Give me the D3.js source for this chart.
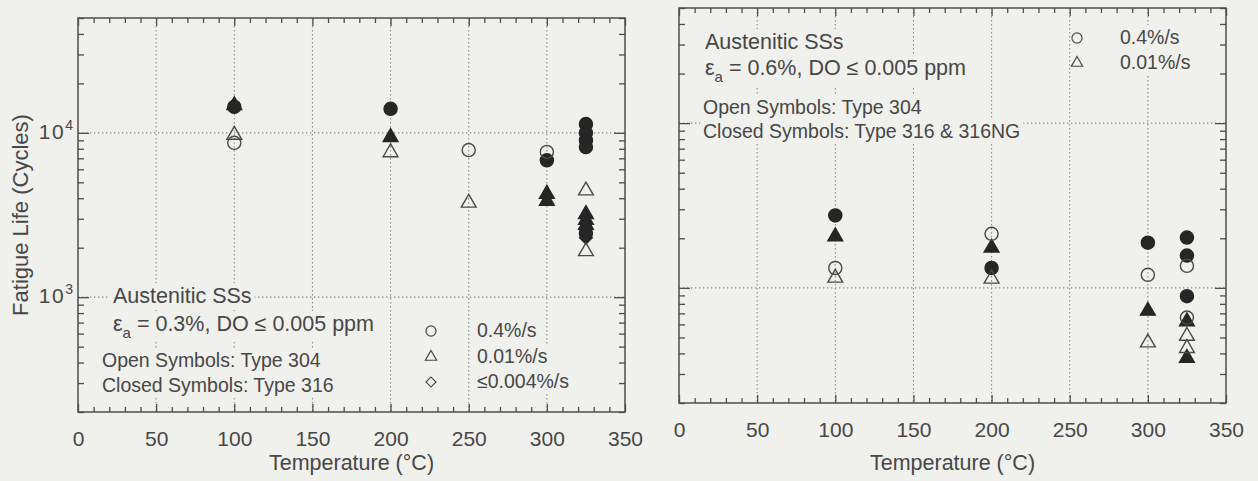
<!DOCTYPE html>
<html>
<head>
<meta charset="utf-8">
<script src="https://cdn.jsdelivr.net/npm/d3@7"></script>
<style>
  body { margin: 0; background: #f0f0ed; }
  svg { display: block; font-family: "Liberation Sans", Arial, sans-serif; }
</style>
</head>
<body>
<div id="chart"></div>
<script>
// axis values
const tempTicks = [0, 50, 100, 150, 200, 250, 300, 350];
const gridTemps = [50, 100, 150, 200, 250, 300];
const lifeDecades = [1000, 10000];
const decadeExp = ['3', '4'];

// left panel, strain amplitude 0.3 %
const a03OpenCircleT = [100, 250, 300];
const a03OpenCircleN = [8700, 7850, 7650];
const a03OpenTriT = [100, 200, 250, 325, 325];
const a03OpenTriN = [9700, 7600, 3750, 4450, 1900];
const a03FillCircleT = [100, 200, 300, 325, 325, 325, 325, 325];
const a03FillCircleN = [14400, 14000, 6800, 11300, 10000, 9000, 8200, 2450];
const a03FillTriT = [100, 200, 300, 300, 325, 325, 325];
const a03FillTriN = [14700, 9400, 4250, 3850, 3200, 2950, 2750];
const a03FillDiamondT = [325];
const a03FillDiamondN = [2300];

// right panel, strain amplitude 0.6 %
const a06OpenCircleT = [100, 200, 300, 325, 325];
const a06OpenCircleN = [1320, 2130, 1200, 1360, 660];
const a06OpenTriT = [100, 200, 300, 325, 325];
const a06OpenTriN = [1150, 1135, 465, 510, 430];
const a06FillCircleT = [100, 200, 300, 325, 325, 325];
const a06FillCircleN = [2750, 1320, 1880, 2020, 1570, 890];
const a06FillTriT = [100, 200, 300, 325, 325];
const a06FillTriN = [2050, 1750, 725, 625, 375];

// legend / note texts
const leftNotes = ['Austenitic SSs', '0.3%', 'Open Symbols: Type 304', 'Closed Symbols: Type 316'];
const rightNotes = ['Austenitic SSs', '0.6%', 'Open Symbols: Type 304', 'Closed Symbols: Type 316 & 316NG'];
const leftRates = ['0.4%/s', '0.01%/s', '\u22640.004%/s'];
const rightRates = ['0.4%/s', '0.01%/s'];

const W = 1258, H = 481;
const bg = '#f0f0ed';
const ink = '#262626';
const textColor = '#474747';

const svg = d3.select('#chart').append('svg').attr('width', W).attr('height', H);
svg.append('rect').attr('width', W).attr('height', H).attr('fill', bg);

// diamond drawn as a rotated square (the legend one is as wide as tall)
const shapes = {
  circle: { type: d3.symbolCircle, size: 135, legendSize: 80, rot: 0 },
  triangle: { type: d3.symbolTriangle, size: 95, legendSize: 55, rot: 0 },
  diamond: { type: d3.symbolSquare, size: 80, legendSize: 50, rot: 45 },
};

function makeSeries(t, n, shape, filled) {
  return t.map((d, i) => ({ t: d, n: n[i], shape: shape, filled: filled }));
}

// text with a bg rect behind it so the grid is knocked out
function noteText(layer, x, y, size, str, eps) {
  const t = layer.append('text')
    .attr('x', x).attr('y', y)
    .attr('font-size', size)
    .attr('fill', textColor);
  if (eps) {
    t.append('tspan').text('\u03b5');
    t.append('tspan').attr('dy', 7).attr('font-size', 15).text('a');
    t.append('tspan').attr('dy', -7).text(' = ' + str + ', DO \u2264 0.005 ppm');
  } else {
    t.text(str);
  }
  const b = t.node().getBBox();
  layer.insert('rect', () => t.node())
    .attr('x', b.x - 3).attr('y', b.y - 1)
    .attr('width', b.width + 6).attr('height', b.height + 2)
    .attr('fill', bg);
  return t;
}

function drawPanel(cfg) {
  const x = d3.scaleLinear().domain([0, 350]).range([cfg.x0, cfg.x1]);
  const y = d3.scaleLog().domain([200, 50000]).range([cfg.y1, cfg.y0]);

  const gridLayer = svg.append('g');
  const noteLayer = svg.append('g');
  const markLayer = svg.append('g');
  const axisLayer = svg.append('g');

  // dotted grid
  gridLayer.selectAll('.vg').data(gridTemps).join('line')
    .attr('x1', d => x(d)).attr('x2', d => x(d))
    .attr('y1', cfg.y0).attr('y2', cfg.y1);
  gridLayer.selectAll('.hg').data(lifeDecades).join('line')
    .attr('x1', cfg.x0).attr('x2', cfg.x1)
    .attr('y1', d => y(d)).attr('y2', d => y(d));
  gridLayer.selectAll('line')
    .attr('stroke', '#8c8c8c')
    .attr('stroke-width', 1.1)
    .attr('stroke-dasharray', '1.4,2.6');

  // notes
  const nl = cfg.notesAt;
  noteText(noteLayer, nl[0].x, nl[0].y, 21.5, cfg.notes[0]);
  noteText(noteLayer, nl[1].x, nl[1].y, 21.5, cfg.notes[1], true);
  noteText(noteLayer, nl[2].x, nl[2].y, 19.5, cfg.notes[2]);
  noteText(noteLayer, nl[3].x, nl[3].y, 19.5, cfg.notes[3]);

  // symbol legend
  cfg.rates.forEach((r, i) => {
    const sh = shapes[cfg.legendShapes[i]];
    const sy = cfg.legendY[i];
    noteText(noteLayer, cfg.legendTextX, sy + 6, 19.5, r);
    noteLayer.append('path')
      .attr('d', d3.symbol().type(sh.type).size(sh.legendSize)())
      .attr('transform', `translate(${cfg.legendSymX},${sy}) rotate(${sh.rot})`)
      .attr('fill', 'none')
      .attr('stroke', textColor)
      .attr('stroke-width', 1.2);
  });

  // data marks (triangles under circles, open symbols on top)
  markLayer.selectAll('path').data(cfg.series).join('path')
    .attr('d', d => d3.symbol().type(shapes[d.shape].type).size(shapes[d.shape].size)())
    .attr('transform', d => `translate(${x(d.t)},${y(d.n)}) rotate(${shapes[d.shape].rot})`)
    .attr('fill', d => d.filled ? ink : 'none')
    .attr('stroke', d => d.filled ? ink : '#4a4a4a')
    .attr('stroke-width', 1.4);

  // axes, ticks pointing inward
  const minorT = d3.range(0, 351, 10).filter(d => d % 50 !== 0);
  const minorN = y.ticks().filter(d => !lifeDecades.includes(d));

  const bottom = axisLayer.append('g').attr('transform', `translate(0,${cfg.y1})`)
    .call(d3.axisBottom(x).tickValues(tempTicks).tickSize(-8).tickPadding(19));
  axisLayer.append('g').attr('transform', `translate(0,${cfg.y1})`)
    .call(d3.axisBottom(x).tickValues(minorT).tickSize(-5).tickFormat(''));
  axisLayer.append('g').attr('transform', `translate(0,${cfg.y0})`)
    .call(d3.axisTop(x).tickValues(tempTicks).tickSize(-8).tickFormat(''));
  axisLayer.append('g').attr('transform', `translate(0,${cfg.y0})`)
    .call(d3.axisTop(x).tickValues(minorT).tickSize(-5).tickFormat(''));
  axisLayer.append('g').attr('transform', `translate(${cfg.x0},0)`)
    .call(d3.axisLeft(y).tickValues(lifeDecades).tickSize(-11).tickFormat(''));
  axisLayer.append('g').attr('transform', `translate(${cfg.x0},0)`)
    .call(d3.axisLeft(y).tickValues(minorN).tickSize(-6).tickFormat(''));
  axisLayer.append('g').attr('transform', `translate(${cfg.x1},0)`)
    .call(d3.axisRight(y).tickValues(lifeDecades).tickSize(-11).tickFormat(''));
  axisLayer.append('g').attr('transform', `translate(${cfg.x1},0)`)
    .call(d3.axisRight(y).tickValues(minorN).tickSize(-6).tickFormat(''));

  axisLayer.selectAll('.domain').remove();
  axisLayer.selectAll('.tick line').attr('stroke', '#4d4d4d').attr('stroke-width', 1.3);
  bottom.selectAll('text')
    .attr('font-size', 21)
    .attr('font-family', '"Liberation Sans", Arial, sans-serif')
    .attr('fill', textColor);

  axisLayer.append('rect')
    .attr('x', cfg.x0).attr('y', cfg.y0)
    .attr('width', cfg.x1 - cfg.x0).attr('height', cfg.y1 - cfg.y0)
    .attr('fill', 'none')
    .attr('stroke', '#4d4d4d')
    .attr('stroke-width', 1.5);

  // x title
  axisLayer.append('text')
    .attr('x', (cfg.x0 + cfg.x1) / 2).attr('y', 470)
    .attr('text-anchor', 'middle')
    .attr('font-size', 21.5)
    .attr('fill', textColor)
    .text('Temperature (\u00b0C)');

  if (cfg.yLabels) {
    lifeDecades.forEach((d, i) => {
      const t = axisLayer.append('text')
        .attr('x', cfg.x0 - 5).attr('y', y(d) + 6)
        .attr('text-anchor', 'end')
        .attr('font-size', 21)
        .attr('letter-spacing', 1.5)
        .attr('fill', textColor);
      t.append('tspan').text('10');
      t.append('tspan').attr('dy', -9).attr('font-size', 14).attr('letter-spacing', 0).text(decadeExp[i]);
    });
    axisLayer.append('text')
      .attr('transform', `translate(28,${(cfg.y0 + cfg.y1) / 2}) rotate(-90)`)
      .attr('text-anchor', 'middle')
      .attr('font-size', 22)
      .attr('fill', textColor)
      .text('Fatigue Life (Cycles)');
  }
}

drawPanel({
  x0: 78, x1: 625, y0: 18, y1: 412,
  yLabels: true,
  notes: leftNotes,
  notesAt: [{ x: 113, y: 303 }, { x: 113, y: 331 }, { x: 102, y: 367 }, { x: 102, y: 392 }],
  rates: leftRates,
  legendShapes: ['circle', 'triangle', 'diamond'],
  legendSymX: 431, legendTextX: 477, legendY: [331, 357, 382],
  series: [].concat(
    makeSeries(a03FillTriT, a03FillTriN, 'triangle', true),
    makeSeries(a03FillCircleT, a03FillCircleN, 'circle', true),
    makeSeries(a03FillDiamondT, a03FillDiamondN, 'diamond', true),
    makeSeries(a03OpenCircleT, a03OpenCircleN, 'circle', false),
    makeSeries(a03OpenTriT, a03OpenTriN, 'triangle', false)
  ),
});

drawPanel({
  x0: 679, x1: 1226, y0: 8, y1: 403,
  yLabels: false,
  notes: rightNotes,
  notesAt: [{ x: 705, y: 49 }, { x: 705, y: 75 }, { x: 703, y: 114 }, { x: 703, y: 138 }],
  rates: rightRates,
  legendShapes: ['circle', 'triangle'],
  legendSymX: 1077, legendTextX: 1120, legendY: [38, 63],
  series: [].concat(
    makeSeries(a06FillTriT, a06FillTriN, 'triangle', true),
    makeSeries(a06FillCircleT, a06FillCircleN, 'circle', true),
    makeSeries(a06OpenCircleT, a06OpenCircleN, 'circle', false),
    makeSeries(a06OpenTriT, a06OpenTriN, 'triangle', false)
  ),
});
</script>
</body>
</html>
